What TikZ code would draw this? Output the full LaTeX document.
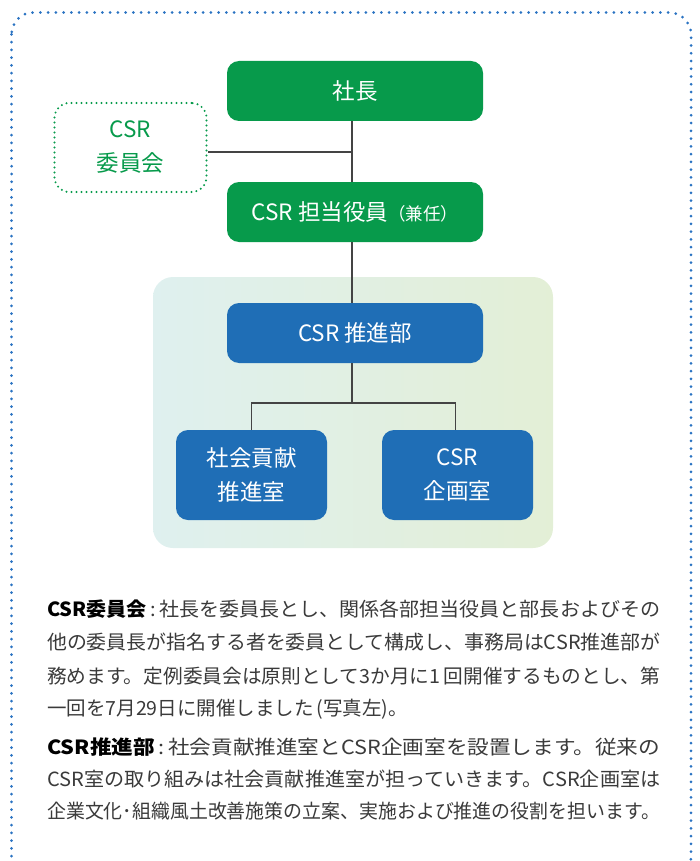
\documentclass[tikz,border=0pt]{standalone}
\usepackage{graphicx}
\usepackage{fontspec}
\newfontfamily\jp{Noto Sans CJK JP}
\definecolor{cgreen}{HTML}{079A4B}
\definecolor{cblue}{HTML}{1F6EB6}
\definecolor{cdots}{HTML}{2A73C2}
\definecolor{cline}{HTML}{444444}
\definecolor{ctext}{HTML}{3A3A3A}
\definecolor{cpanelL}{HTML}{DFF0EF}
\definecolor{cpanelR}{HTML}{E3EFD6}
\newcommand{\jline}[1]{\resizebox{613pt}{\height}{#1}}
\tikzset{
  gbox/.style={fill=cgreen, rounded corners=12pt, text=white, font=\jp\fontsize{22.5}{26}\selectfont, align=center, inner sep=0pt},
  bbox/.style={fill=cblue, rounded corners=12pt, text=white, font=\jp\fontsize{22.5}{34}\selectfont, align=center, inner sep=0pt},
  conn/.style={draw=cline, line width=1.3pt},
  para/.style={anchor=west, text=ctext, font=\jp\fontsize{19.5}{24}\selectfont, inner sep=0pt}
}
\begin{document}
\begin{tikzpicture}[x=1pt,y=-1pt]
\useasboundingbox (0,0) rectangle (700,861);
\begin{scope}
\clip (0,0) rectangle (700,861);
\draw[cdots, line width=3pt, line cap=round, dash pattern=on 0pt off 7.75pt, rounded corners=22pt] (11.5,12.5) rectangle (691,880);
\end{scope}
% panel
\shade[left color=cpanelL, right color=cpanelR, rounded corners=20pt] (153,277) rectangle (553,548);
% nodes
\node[gbox, minimum width=256pt, minimum height=60pt] (pres) at (355,91) {社長};
\node[gbox, minimum width=256pt, minimum height=60pt] (off) at (355,212) {CSR 担当役員{\fontsize{17.5}{20}\selectfont （兼任）}};
\node[draw=cgreen, line width=2.2pt, line cap=round, dash pattern=on 0pt off 5pt, rounded corners=15pt, minimum width=152pt, minimum height=89pt, text=cgreen, font=\jp\fontsize{22.5}{34}\selectfont, align=center, inner sep=0pt] (com) at (130.5,147.5) {CSR\\委員会};
\node[bbox, minimum width=256pt, minimum height=60pt] (dept) at (355,333) {CSR 推進部};
\node[bbox, minimum width=151pt, minimum height=90pt] (soc) at (251.5,475) {社会貢献\\推進室};
\node[bbox, minimum width=151pt, minimum height=90pt] (plan) at (457.5,475) {CSR\\企画室};
% connectors
\coordinate (j1) at (352,152);
\draw[conn] ([xshift=-3pt]pres.south) -- ([xshift=-3pt]off.north);
\draw[conn] (com.east |- j1) -- (j1);
\draw[conn] ([xshift=-3pt]off.south) -- ([xshift=-3pt]dept.north);
\coordinate (j2) at (352,403);
\draw[conn] ([xshift=-3pt]dept.south) -- (j2);
\draw[conn] (soc.north) -- (soc.north |- j2) -- ([xshift=-2pt]plan.north |- j2) -- ([xshift=-2pt]plan.north);
% text
\node[para] (p1) at (47,609) {\jline{{\color{black}\bfseries CSR委員会}\,:\,社長を委員長とし、関係各部担当役員と部長およびその}};
\node[para] (p2) at (47,642.5) {\jline{他の委員長が指名する者を委員として構成し、事務局はCSR推進部が}};
\node[para] (p3) at (47,676) {\jline{務めます。定例委員会は原則として3か月に1\,回開催するものとし、第}};
\node[para] (p4) at (47,709.5) {一回を7月29日に開催しました\,(写真左)。};
\node[para] (q1) at (47,747) {\jline{{\color{black}\bfseries CSR推進部}\,:\,社会貢献推進室とCSR企画室を設置します。従来の}};
\node[para] (q2) at (47,779) {\jline{CSR室の取り組みは社会貢献推進室が担っていきます。CSR企画室は}};
\node[para] (q3) at (47,811) {\jline{企業文化･組織風土改善施策の立案、実施および推進の役割を担います。}};
\end{tikzpicture}
\end{document}
